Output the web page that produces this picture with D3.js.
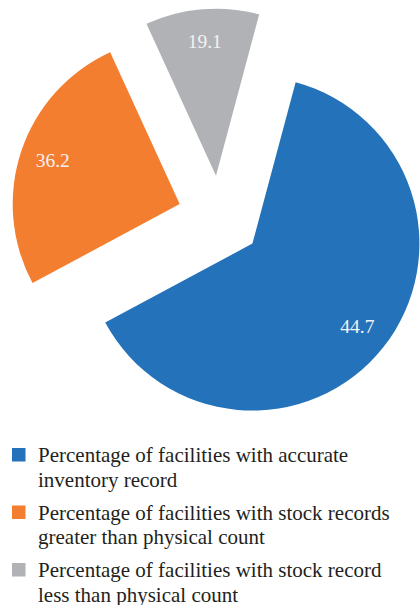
<!DOCTYPE html>
<html>
<head>
<meta charset="utf-8">
<script src="https://cdnjs.cloudflare.com/ajax/libs/d3/7.8.5/d3.min.js"></script>
<style>
  html, body { margin: 0; padding: 0; background: #fff; }
  svg { display: block; }
</style>
</head>
<body>
<svg id="chart" width="420" height="605"></svg>
<script>
// Categories (legend text, split into lines as in the reference)
const categories = [
  ["Percentage of facilities with accurate", "inventory record"],
  ["Percentage of facilities with stock records", "greater than physical count"],
  ["Percentage of facilities with stock record", "less than physical count"]
];
// Printed values on the slices
const labelValues = [44.7, 36.2, 19.1];
// Slice sizes as drawn in the picture (share of the full circle, %)
const sliceShares = [63.0, 26.0, 11.0];
const colors = ["#2473ba", "#f47e30", "#b1b2b6"];

const svg = d3.select("#chart");
const cx = 219.5, cy = 217.5, radius = 167, explode = 42;
const deg = Math.PI / 180;

const data = categories.map((c, i) => ({ name: c, label: labelValues[i], share: sliceShares[i], color: colors[i] }));

const pie = d3.pie().sort(null).value(d => d.share)
  .startAngle(15 * deg).endAngle(375 * deg);
const arcs = pie(data);
const arc = d3.arc().innerRadius(0).outerRadius(radius);
const labelArc = d3.arc().innerRadius(134).outerRadius(134);

const g = svg.append("g").attr("transform", `translate(${cx},${cy})`);
const slices = g.selectAll("g.slice").data(arcs).enter().append("g")
  .attr("class", "slice")
  .attr("transform", d => {
    const a = (d.startAngle + d.endAngle) / 2;
    return `translate(${explode * Math.sin(a)},${-explode * Math.cos(a)})`;
  });
slices.append("path").attr("d", arc).attr("fill", d => d.data.color);
slices.append("text")
  .attr("transform", d => `translate(${labelArc.centroid(d)})`)
  .attr("text-anchor", "middle")
  .attr("dy", "0.3em")
  .attr("font-family", "'Liberation Serif', 'Times New Roman', serif")
  .attr("font-size", 19.5)
  .attr("fill", "#f2f2f2")
  .text(d => d.data.label.toFixed(1));

// Legend
const legendTop = 462, lineGap = 24.5, itemGap = 57.5, fontSize = 21;
const legend = svg.append("g");
data.forEach((d, i) => {
  const base = legendTop + i * itemGap;
  legend.append("rect").attr("x", 12).attr("y", base - 14)
    .attr("width", 13.5).attr("height", 13.5).attr("fill", d.color);
  const t = legend.append("text").attr("x", 38)
    .attr("font-family", "'Liberation Serif', 'Times New Roman', serif")
    .attr("font-size", fontSize).attr("fill", "#231f20");
  d.name.forEach((line, j) => {
    t.append("tspan").attr("x", 38).attr("y", base + j * lineGap).text(line);
  });
});
</script>
</body>
</html>
